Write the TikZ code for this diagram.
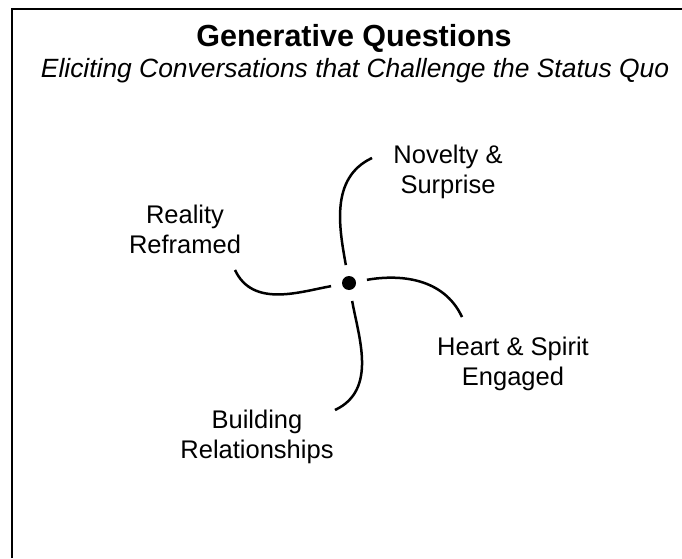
\documentclass[tikz,border=0pt]{standalone}
\usepackage{fontspec}
\setmainfont{Liberation Sans}
\usepackage{tikz}

\begin{document}
\begin{tikzpicture}[
        x=1pt, y=1pt,
        lbl/.style={align=center, anchor=base, inner sep=0pt,
                    font=\fontsize{25.5}{29.5}\selectfont},
        hub/.style={circle, fill, inner sep=0pt, minimum size=14pt},
        arm/.style={line width=2.5pt, shorten <=11pt},
        ]
        \useasboundingbox (0,0) rectangle (682,558);
        \draw[line width=2pt] (12,0) -- (12,549) -- (682,549);

        \node[font=\bfseries\fontsize{30.5}{34}\selectfont, anchor=base] (title) at (354,511) {Generative Questions};
        \node[font=\itshape\fontsize{26.4}{30}\selectfont, anchor=base] (sub) at (355,480) {Eliciting Conversations that Challenge the Status Quo};

        \node[hub] (c) at (349,275) {};
        % base = baseline of the second line
        \node[lbl] (novelty) at (448,365) {Novelty \&\\Surprise};
        \node[lbl] (reality) at (185,305) {Reality\\Reframed};
        \node[lbl] (heart) at (513,173) {Heart \& Spirit\\Engaged};
        \node[lbl] (building) at (257,100) {Building\\Relationships};

        % free ends of the four arms
        \coordinate (n) at (372,400);
        \coordinate (h) at (462,241);
        \coordinate (b) at (335,148);
        \coordinate (r) at (235,288);

        \path[arm]
              (c) edge[out=100, in=205] (n)
              (c) edge[out=10, in=115] (h)
              (c) edge[out=-80, in=25] (b)
              (c) edge[out=190, in=-65] (r);
\end{tikzpicture}
\end{document}
